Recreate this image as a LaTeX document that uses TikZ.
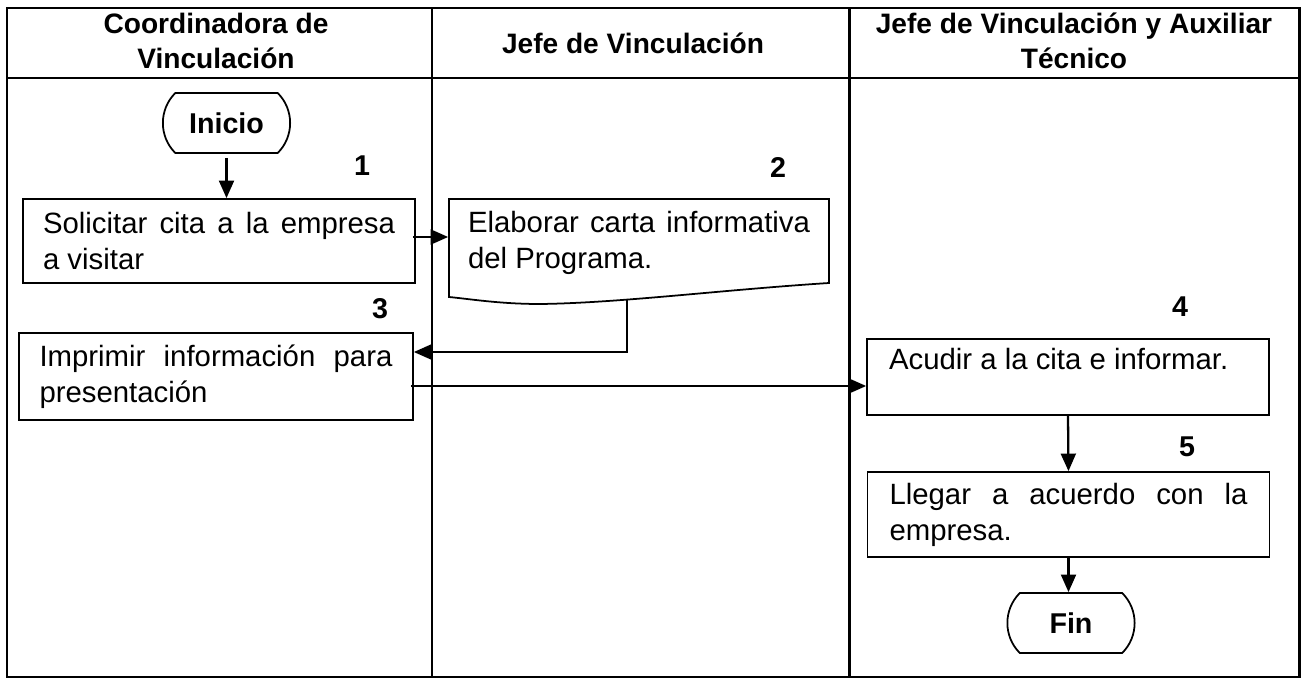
\documentclass[tikz,border=0pt]{standalone}
\usepackage{fontspec}
\setmainfont{Liberation Sans}
\usetikzlibrary{arrows.meta,shapes.misc}
\hyphenpenalty=10000
\exhyphenpenalty=10000
\tikzset{
  lane/.style={line width=1.7pt},
  proc/.style={draw, line width=1pt, align=justify, inner ysep=0pt,
    font=\fontsize{16.7}{20.5}\selectfont},
  term/.style={draw, rounded rectangle, rounded rectangle arc length=90,
    line width=1pt, minimum width=2.78cm, minimum height=1.2cm,
    font=\bfseries\fontsize{16.3}{19}\selectfont},
  head/.style={align=center, font=\bfseries\fontsize{16}{20}\selectfont},
  stepnum/.style={font=\bfseries\fontsize{16.3}{19}\selectfont},
  flow/.style={-{Triangle[length=10pt,width=8.5pt]}, line width=1.3pt},
}

\begin{document}
\begin{tikzpicture}[x=0.02cm,y=-0.02cm]

\useasboundingbox (0,0) rectangle (1302,679);

% lanes
\draw[lane] (7,8) rectangle (1299,677);
\draw[lane] (7,78) -- (1299,78);
\draw[lane] (432,8) -- (432,677);
\draw[lane] (849,8) -- (849,677);

\node[head] (hcoord) at (216,41) {Coordinadora de\\Vinculaci\'on};
\node[head] (hjefe) at (633,43) {Jefe de Vinculaci\'on};
\node[head] (hjefeaux) at (1074,41) {Jefe de Vinculaci\'on y Auxiliar\\T\'ecnico};

% Coordinadora de Vinculacion
\node[term] (ini) at (226.5,123) {Inicio};
\node[stepnum] (n1) at (362,166) {1};
\node[proc, text width=7.04cm, inner xsep=0.4cm, minimum height=1.68cm]
  (box1) at (219,241) {Solicitar cita a la empresa\linebreak a visitar};
\node[stepnum] (n3) at (380,309) {3};
\node[proc, text width=7.06cm, inner xsep=0.41cm, minimum height=1.74cm]
  (box3) at (216,376.5) {Imprimir informaci\'on para\linebreak presentaci\'on};

% Jefe de Vinculacion
\node[stepnum] (n2) at (778,168) {2};
\node[proc, draw=none, text width=6.84cm, inner xsep=0.38cm, minimum height=1.68cm]
  (doc) at (639,243) {Elaborar carta informativa\linebreak del Programa.};
\draw[line width=1pt] (449,199) -- (829,199) -- (829,283)
  .. controls (720,290) and (620,303) .. (540,304)
  .. controls (500,304) and (470,299) .. (449,297) -- cycle;
\coordinate (docout) at (627,300);

% Jefe de Vinculacion y Auxiliar Tecnico
\node[stepnum] (n4) at (1180,307) {4};
\node[proc, text width=7.16cm, inner xsep=0.44cm, minimum height=1.52cm]
  (box4) at (1068,377) {Acudir a la cita e informar.\\ \mbox{}};
\node[stepnum] (n5) at (1187,447) {5};
\node[proc, text width=7.16cm, inner xsep=0.44cm, minimum height=1.7cm]
  (box5) at (1068.5,514.5) {Llegar a acuerdo con la\linebreak empresa.};
\node[term] (fin) at (1071,623) {Fin};

% connectors
\draw[flow] ([yshift=-0.08cm]ini.south) -- (ini.south |- box1.north);
\draw[flow] ([xshift=-0.06cm,yshift=0.08cm]box1.east) -- ([yshift=0.08cm]box1.east -| doc.west);
\draw[flow] (docout) |- ([yshift=0.49cm]box3.east);
\draw[flow] ([xshift=-0.06cm,yshift=-0.19cm]box3.east) -- ([yshift=-0.19cm]box3.east -| box4.west);
\draw[flow] (box4.south) -- (box5.north);
\draw[flow] (box5.south) -- (box5.south |- fin.north);

\end{tikzpicture}
\end{document}
